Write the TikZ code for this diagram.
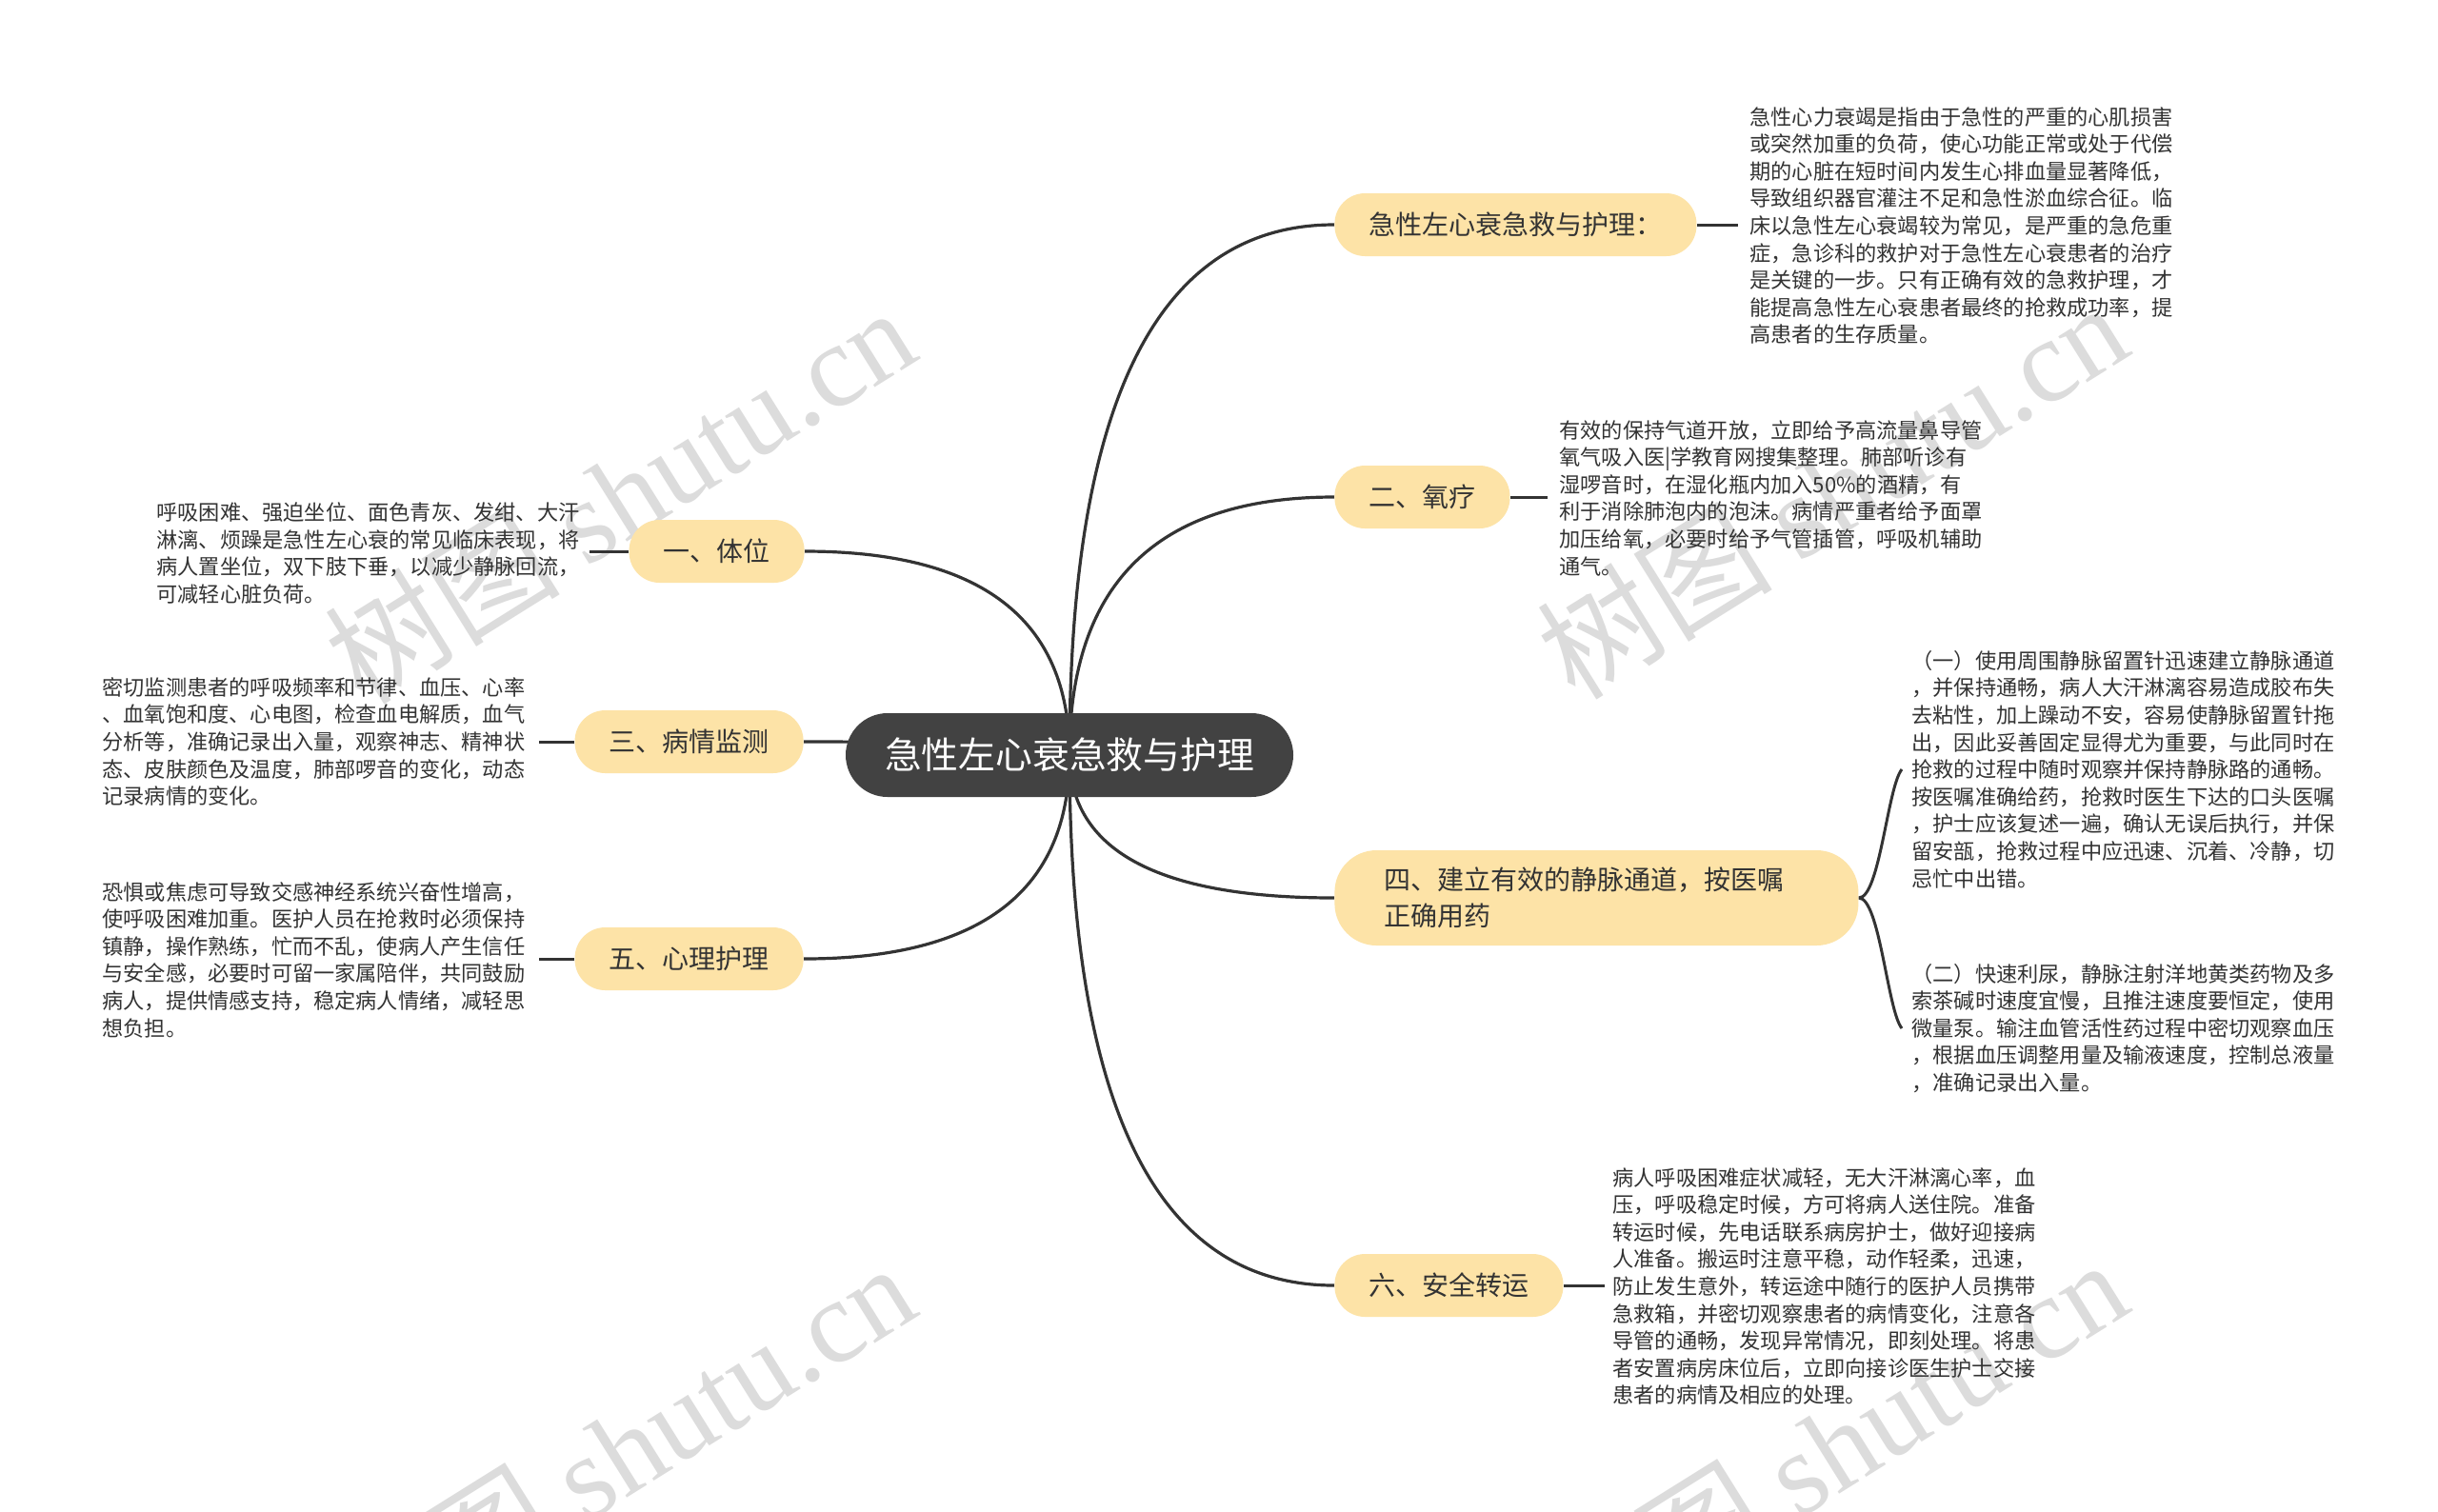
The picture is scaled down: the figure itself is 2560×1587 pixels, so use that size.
\documentclass[tikz,border=0pt]{standalone}
\usepackage{fontspec}
\setmainfont{Noto Sans CJK SC}
\newfontfamily\wmlatin{Liberation Serif}
\usetikzlibrary{calc,backgrounds}
\definecolor{peach}{HTML}{FDE3A7}
\definecolor{darkc}{HTML}{424242}
\definecolor{ink}{HTML}{333333}
\definecolor{wmc}{HTML}{DCDCDC}
\begin{document}
\begin{tikzpicture}[x=0.5pt,y=-0.5pt,
  branchbox/.style={fill=peach, text=ink, rounded corners=16pt, minimum height=33pt,
    inner xsep=18pt, inner ysep=0pt, font=\fontsize{14}{17}\selectfont},
  rootbox/.style={fill=darkc, text=white, rounded corners=22pt, minimum height=44pt,
    minimum width=235pt, inner xsep=0pt, inner ysep=0pt, font=\fontsize{19.4}{24}\selectfont},
  leaftext/.style={text=ink, align=left, text width=224pt, inner sep=0pt,
    font=\fontsize{11.1}{14.3}\selectfont},
  mainlink/.style={draw=ink, line width=1.6pt},
  leaflink/.style={draw=ink, line width=1.5pt},
  wmtext/.style={text=wmc, rotate=32, inner sep=0pt, font=\fontsize{62}{70}\selectfont},
]
\useasboundingbox (0,0) rectangle (2560,1587);

% root
\node[rootbox] (c) at (1123,793) {急性左心衰急救与护理};

% right branches
\node[branchbox, anchor=west] (n1) at (1401,236) {急性左心衰急救与护理：};
\node[branchbox, anchor=west] (n2) at (1401,522) {二、氧疗};
\node[branchbox, anchor=west, align=left, text width=223pt, inner xsep=26pt,
  minimum height=50pt, rounded corners=22pt, font=\fontsize{14}{19}\selectfont]
  (n4) at (1401,943) {四、建立有效的静脉通道，按医嘱\\正确用药};
\node[branchbox, anchor=west] (n6) at (1401,1350) {六、安全转运};

% left branches
\node[branchbox, anchor=east] (l1) at (845,579) {一、体位};
\node[branchbox, anchor=east] (l3) at (844,779) {三、病情监测};
\node[branchbox, anchor=east] (l5) at (844,1007) {五、心理护理};

% text blocks
\node[leaftext, anchor=west] (b1) at (1837,237) {急性心力衰竭是指由于急性的严重的心肌损害\\
或突然加重的负荷，使心功能正常或处于代偿\\
期的心脏在短时间内发生心排血量显著降低，\\
导致组织器官灌注不足和急性淤血综合征。临\\
床以急性左心衰竭较为常见，是严重的急危重\\
症，急诊科的救护对于急性左心衰患者的治疗\\
是关键的一步。只有正确有效的急救护理，才\\
能提高急性左心衰患者最终的抢救成功率，提\\
高患者的生存质量。};

\node[leaftext, anchor=west] (b2) at (1637,523) {有效的保持气道开放，立即给予高流量鼻导管\\
氧气吸入医|学教育网搜集整理。肺部听诊有\\
湿啰音时，在湿化瓶内加入50\%的酒精，有\\
利于消除肺泡内的泡沫。病情严重者给予面罩\\
加压给氧，必要时给予气管插管，呼吸机辅助\\
通气。};

\node[leaftext, anchor=west] (b4a) at (2007,808) {（一）使用周围静脉留置针迅速建立静脉通道\\
，并保持通畅，病人大汗淋漓容易造成胶布失\\
去粘性，加上躁动不安，容易使静脉留置针拖\\
出，因此妥善固定显得尤为重要，与此同时在\\
抢救的过程中随时观察并保持静脉路的通畅。\\
按医嘱准确给药，抢救时医生下达的口头医嘱\\
，护士应该复述一遍，确认无误后执行，并保\\
留安瓿，抢救过程中应迅速、沉着、冷静，切\\
忌忙中出错。};

\node[leaftext, anchor=west] (b4b) at (2007,1080) {（二）快速利尿，静脉注射洋地黄类药物及多\\
索茶碱时速度宜慢，且推注速度要恒定，使用\\
微量泵。输注血管活性药过程中密切观察血压\\
，根据血压调整用量及输液速度，控制总液量\\
，准确记录出入量。};

\node[leaftext, anchor=west] (b6) at (1693,1351) {病人呼吸困难症状减轻，无大汗淋漓心率，血\\
压，呼吸稳定时候，方可将病人送住院。准备\\
转运时候，先电话联系病房护士，做好迎接病\\
人准备。搬运时注意平稳，动作轻柔，迅速，\\
防止发生意外，转运途中随行的医护人员携带\\
急救箱，并密切观察患者的病情变化，注意各\\
导管的通畅，发现异常情况，即刻处理。将患\\
者安置病房床位后，立即向接诊医生护士交接\\
患者的病情及相应的处理。};

\node[leaftext, anchor=west] (bl1) at (164,581) {呼吸困难、强迫坐位、面色青灰、发绀、大汗\\
淋漓、烦躁是急性左心衰的常见临床表现，将\\
病人置坐位，双下肢下垂，以减少静脉回流，\\
可减轻心脏负荷。};

\node[leaftext, anchor=west] (bl3) at (107,779) {密切监测患者的呼吸频率和节律、血压、心率\\
、血氧饱和度、心电图，检查血电解质，血气\\
分析等，准确记录出入量，观察神志、精神状\\
态、皮肤颜色及温度，肺部啰音的变化，动态\\
记录病情的变化。};

\node[leaftext, anchor=west] (bl5) at (107,1008) {恐惧或焦虑可导致交感神经系统兴奋性增高，\\
使呼吸困难加重。医护人员在抢救时必须保持\\
镇静，操作熟练，忙而不乱，使病人产生信任\\
与安全感，必要时可留一家属陪伴，共同鼓励\\
病人，提供情感支持，稳定病人情绪，减轻思\\
想负担。};

\begin{pgfonlayer}{background}
\fill[white] (0,0) rectangle (2560,1587);
\node[wmtext] (wm1) at (650,519) {树图 {\wmlatin shutu.cn}};
\node[wmtext] (wm2) at (1923,514) {树图 {\wmlatin shutu.cn}};
\node[wmtext] (wm3) at (650,1523) {树图 {\wmlatin shutu.cn}};
\node[wmtext] (wm4) at (1923,1519) {树图 {\wmlatin shutu.cn}};

\foreach \n in {n1,n2,n4,n6}
  \draw[mainlink] (c.center) .. controls ($(c.center)!0.667!(c.center |- \n.west)$)
    and ($(\n.west)!0.667!(c.center |- \n.west)$) .. (\n.west);
\foreach \n in {l1,l3,l5}
  \draw[mainlink] (c.center) .. controls ($(c.center)!0.667!(c.center |- \n.east)$)
    and ($(\n.east)!0.667!(c.center |- \n.east)$) .. (\n.east);

\draw[leaflink, shorten >=6pt] (n1.east) -- (n1.east -| b1.west);
\draw[leaflink, shorten >=6pt] (n2.east) -- (n2.east -| b2.west);
\draw[leaflink, shorten >=4pt] (n6.east) -- (n6.east -| b6.west);
\draw[leaflink, shorten >=3pt] (l1.west) -- (l1.west -| bl1.east);
\draw[leaflink, shorten >=5pt] (l3.west) -- (l3.west -| bl3.east);
\draw[leaflink, shorten >=5pt] (l5.west) -- (l5.west -| bl5.east);
\draw[leaflink] (n4.east) .. controls +(22,0) and +(-15,18) .. ($(b4a.west)+(-10,0)$);
\draw[leaflink] (n4.east) .. controls +(22,0) and +(-15,-18) .. ($(b4b.west)+(-10,0)$);
\end{pgfonlayer}
\end{tikzpicture}
\end{document}
